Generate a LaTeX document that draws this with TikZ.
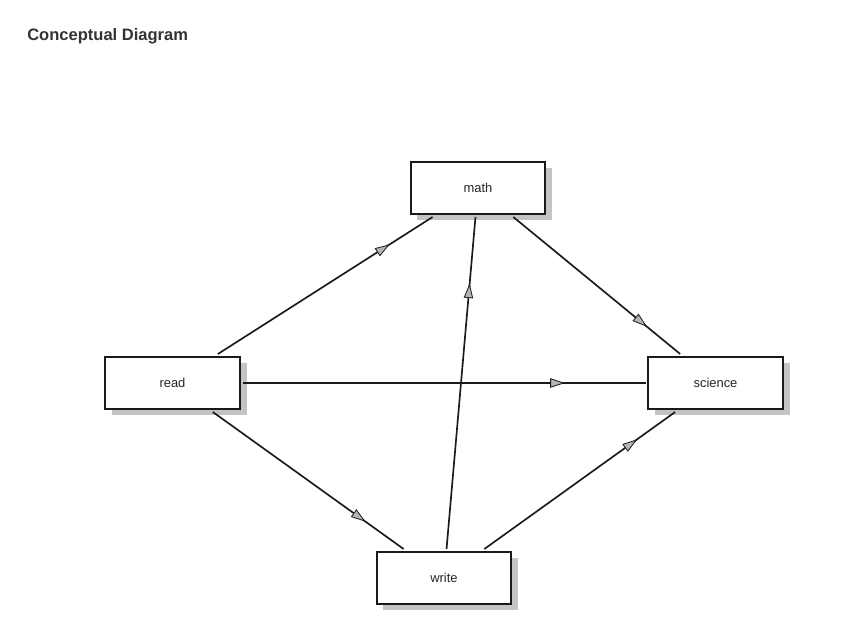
\documentclass[tikz,border=0pt]{standalone}
\usepackage{fontspec}
\setmainfont{Liberation Sans}
\usepackage{xcolor}
\usepackage{tikz}
\usetikzlibrary{arrows.meta,decorations.markings,shadows}

\definecolor{BoxLine}{HTML}{1A1A1A}
\definecolor{BoxShade}{HTML}{C4C4C4}
\definecolor{TipFill}{HTML}{B4B4B4}
\definecolor{TitleGray}{HTML}{333333}

\begin{document}
\begin{tikzpicture}[x=0.75pt,y=-0.75pt,font=\fontsize{9.7}{11}\selectfont,
  box/.style={draw=BoxLine,line width=1.5pt,fill=white,minimum width=101pt,
    minimum height=39.5pt,inner sep=0pt,outer sep=2pt,text=black!85,
    drop shadow={shadow xshift=5pt,shadow yshift=-4.5pt,fill=BoxShade,opacity=1}},
  flow/.style={draw=BoxLine,line width=1.25pt,postaction={decorate},
    decoration={markings,mark=at position 0.8 with
      {\arrow{Triangle[length=11pt,width=7pt,fill=TipFill,line width=0.6pt]}}}}]
  \useasboundingbox (0,0) rectangle (856,640);

  % Title
  \node[anchor=base west,inner sep=0pt,font=\fontsize{12.4}{14}\selectfont\bfseries,
    text=TitleGray] (title) at (27,40) {Conceptual Diagram};

  % Boxes
  \node[box] (math) at (478,188) {math};
  \node[box] (read) at (172.5,383) {read};
  \node[box] (science) at (715.5,383) {science};
  \node[box] (write) at (444,578) {write};

  % Links
  \draw[flow] (read) -- (math);
  \draw[flow] (math) -- (science);
  \draw[flow] (read) -- (science);
  \draw[flow] (read) -- (write);
  \draw[flow] (write) -- (science);
  \draw[flow] (write) -- (math);
\end{tikzpicture}
\end{document}
